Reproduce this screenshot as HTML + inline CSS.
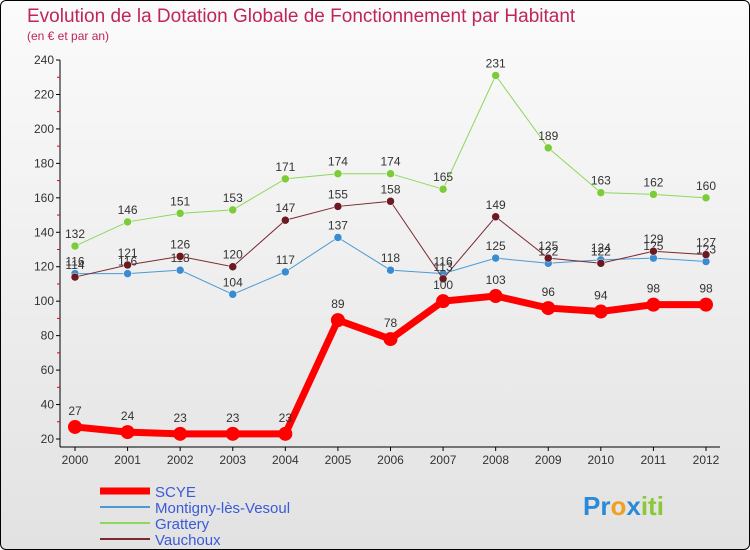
<!DOCTYPE html>
<html><head><meta charset="utf-8"><style>
html,body{margin:0;padding:0;}
body{width:750px;height:550px;overflow:hidden;font-family:"Liberation Sans",sans-serif;}
#wrap{position:absolute;left:0;top:0;width:748px;height:548px;border:1px solid #000;border-radius:6px;background:linear-gradient(#fbfbfb,#e2e2e2);overflow:hidden;}
</style></head><body>
<div id="wrap">
<svg id="c" width="750" height="550" style="position:absolute;left:-1px;top:-1px"></svg>
</div>
<script>
const years=["2000","2001","2002","2003","2004","2005","2006","2007","2008","2009","2010","2011","2012"];
const scye=[27,24,23,23,23,89,78,100,103,96,94,98,98];
const montigny=[116,116,118,104,117,137,118,116,125,122,124,125,123];
const grattery=[132,146,151,153,171,174,174,165,231,189,163,162,160];
const vauchoux=[114,121,126,120,147,155,158,113,149,125,122,129,127];
const yTicks=[20,40,60,80,100,120,140,160,180,200,220,240];
const seriesNames=["SCYE","Montigny-lès-Vesoul","Grattery","Vauchoux"];
const NS="http://www.w3.org/2000/svg";
const svg=document.getElementById('c');
const X=i=>75+i*(706-75)/(years.length-1);
const Y=v=>439-(v-20)*(439-60)/220;
function mk(t,a,p){const e=document.createElementNS(NS,t);for(const k in a)e.setAttribute(k,a[k]);(p||svg).appendChild(e);return e;}
const F='"Liberation Sans",sans-serif';
let t=mk('text',{x:27,y:22,fill:'#c0245c','font-size':19,'font-family':F});t.textContent='Evolution de la Dotation Globale de Fonctionnement par Habitant';

t=mk('text',{x:27,y:40,fill:'#c0245c','font-size':12,'font-family':F});t.textContent='(en € et par an)';

let ax=mk('line',{x1:60,y1:60,x2:60,y2:447,stroke:'#000'});

ax=mk('line',{x1:60,y1:447,x2:720,y2:447,stroke:'#000'});

yTicks.forEach((v,i)=>{
 const y=Y(v);
 mk('line',{x1:56,y1:y,x2:60,y2:y,stroke:'#000'});
 if(i<yTicks.length-1) mk('line',{x1:57,y1:Y(v+10),x2:60,y2:Y(v+10),stroke:'#e00'});
 const l=mk('text',{x:54,y:y+4,'text-anchor':'end','font-size':12,fill:'#333','font-family':F});l.textContent=v;
 
});
years.forEach((yr,i)=>{
 mk('line',{x1:X(i),y1:447,x2:X(i),y2:451,stroke:'#000'});
 const l=mk('text',{x:X(i),y:464,'text-anchor':'middle','font-size':12,fill:'#333','font-family':F});l.textContent=yr;
 
});
function series(data,color,w,r,name,fillc){
 const g=mk('g',{});
 
 mk('polyline',{points:data.map((v,i)=>X(i)+','+Y(v)).join(' '),fill:'none',stroke:color,'stroke-width':w},g);
 data.forEach((v,i)=>{
  const c=mk('circle',{cx:X(i),cy:Y(v),r:r,fill:fillc,stroke:w>3?'none':'#fff','stroke-width':0.5},g);
  
  const l=mk('text',{x:X(i),y:Y(v)-(w>3?12:8),'text-anchor':'middle','font-size':12,fill:'#333','font-family':F},g);l.textContent=v;
  
 });
}
series(montigny,'#4a9ad5',1,4,'series-montigny','#3a8cd0');
series(grattery,'#8ed85a',1,4,'series-grattery','#7ccc3a');
series(vauchoux,'#7a2a30',1,4,'series-vauchoux','#6a1a20');
series(scye,'#ff0000',7,7,'series-scye','#ff0000');
const leg=[['#ff0000',7],['#4a9ad5',2],['#8ed85a',2],['#7a2a30',2]];
seriesNames.forEach((n,i)=>{
 const y=491+i*16;
 const g=mk('g',{});
 
 mk('line',{x1:100,y1:y,x2:150,y2:y,stroke:leg[i][0],'stroke-width':leg[i][1]},g);
 const l=mk('text',{x:155,y:y+6,'font-size':15,fill:'#3a5ad8','font-family':F},g);l.textContent=n;
});
const p=mk('text',{x:583,y:515,'font-size':26,'font-weight':'bold','font-family':F,fill:'#2a8ad8'});
p.innerHTML='<tspan fill="#2a8ad8">Pr</tspan><tspan fill="#f0a020">o</tspan><tspan fill="#2a8ad8">x</tspan><tspan fill="#8ac83a">iti</tspan>';

</script>
</body></html>
